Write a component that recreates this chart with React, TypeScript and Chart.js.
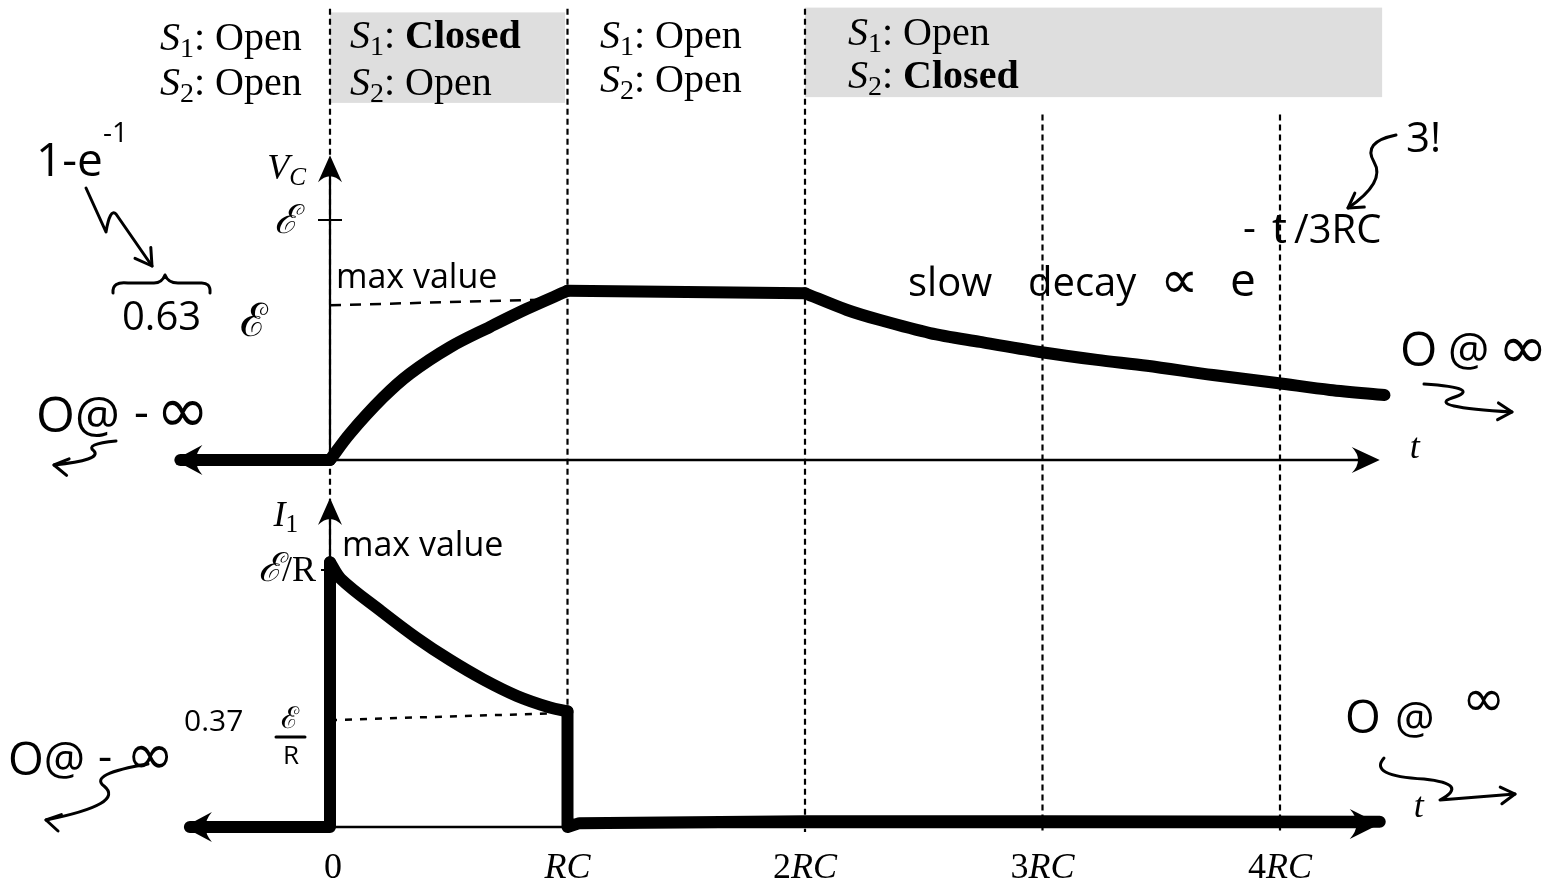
import React, { useEffect, useRef } from 'react';
import { Chart, registerables } from 'chart.js';

Chart.register(...registerables);

// ---- time axis (units of RC) ----
const TICK_VALUES = [0, 1, 2, 3, 4];
const TICK_PREFIX = ['0', '', '2', '3', '4'];
const TICK_SUFFIX = ['', 'RC', 'RC', 'RC', 'RC'];
const T_AXIS_START = 0;
const T_AXIS_END = 4.42;

// ---- capacitor voltage V_C (units of ℰ) ----
const VC_BEFORE_T = [-0.63, 0];
const VC_BEFORE_V = [0, 0];
const VC_CHARGE_T = [0, 0.084, 0.223, 0.337, 0.505, 0.674, 0.829, 1.0];
const VC_CHARGE_V = [0, 0.11, 0.26, 0.36, 0.47, 0.555, 0.63, 0.705];
const VC_HOLD_T = [1.0, 1.5, 2.0];
const VC_HOLD_V = [0.705, 0.7, 0.695];
const VC_DECAY_T = [2.0, 2.177, 2.316, 2.526, 2.737, 2.989, 3.23, 3.44, 3.718, 3.987, 4.21, 4.44];
const VC_DECAY_V = [0.695, 0.625, 0.583, 0.529, 0.492, 0.45, 0.417, 0.393, 0.354, 0.321, 0.292, 0.271];
const VC_REF_T = [0, 0.9];
const VC_REF_V = [0.645, 0.668];
const VC_AXIS_TOP = 1.27;
const VC_TICK = 1;

// ---- current I_1 (units of ℰ/R) ----
const I1_BEFORE_T = [-0.59, 0, 0];
const I1_BEFORE_V = [0, 0, 1.03];
const I1_CHARGE_T = [0, 0.046, 0.215, 0.366, 0.505, 0.644, 0.787, 0.926, 1.0];
const I1_CHARGE_V = [1.03, 0.965, 0.84, 0.735, 0.65, 0.575, 0.51, 0.465, 0.45];
const I1_AFTER_T = [1.0, 1.0, 1.05, 2.0, 3.0, 4.42];
const I1_AFTER_V = [0.45, 0, 0.015, 0.022, 0.022, 0.02];
const I1_REF_T = [0, 1.0];
const I1_REF_V = [0.416, 0.444];
const I1_AXIS_TOP = 1.28;
const I1_TICK = 1;

// ---- phase boundaries (dashed) ----
const PHASE_T = [0, 1, 2, 3, 4];
const PHASE_TOP = [1.88, 1.88, 1.88, 1.44, 1.44];
const PHASE_BOTTOM = -1.55;

// ---- header (switch states) ----
const HEADER_S1 = ['Open', 'Closed', 'Open', 'Open'];
const HEADER_S2 = ['Open', 'Open', 'Open', 'Closed'];
const HEADER_BOLD_S1 = [false, true, false, false];
const HEADER_BOLD_S2 = [false, false, false, true];
const SHADED_FROM = [0, 2];
const SHADED_TO = [0.99, 4.43];

const SERIF = "'Liberation Serif', 'DejaVu Serif', serif";
const HAND = "'Open Sans', 'Noto Sans', sans-serif";
const SYM = "'DejaVu Sans', sans-serif";

type Run = { t: string; f: string; dy?: number };

function rich(ctx: CanvasRenderingContext2D, x: number, y: number, runs: Run[], align: 'left' | 'center' | 'right' = 'left') {
  let w = 0;
  runs.forEach((r) => {
    ctx.font = r.f;
    w += ctx.measureText(r.t).width;
  });
  let cx = align === 'left' ? x : align === 'center' ? x - w / 2 : x - w;
  ctx.textAlign = 'left';
  ctx.textBaseline = 'alphabetic';
  runs.forEach((r) => {
    ctx.font = r.f;
    ctx.fillText(r.t, cx, y + (r.dy || 0));
    cx += ctx.measureText(r.t).width;
  });
}

function arrowHead(ctx: CanvasRenderingContext2D, x: number, y: number, angle: number, len: number, half: number) {
  ctx.save();
  ctx.translate(x, y);
  ctx.rotate(angle);
  ctx.beginPath();
  ctx.moveTo(0, 0);
  ctx.lineTo(-len, -half);
  ctx.quadraticCurveTo(-len * 0.55, 0, -len, half);
  ctx.closePath();
  ctx.fill();
  ctx.restore();
}

function openArrow(ctx: CanvasRenderingContext2D, x: number, y: number, angle: number, len: number) {
  ctx.save();
  ctx.translate(x, y);
  ctx.rotate(angle);
  ctx.beginPath();
  ctx.moveTo(-len, -len * 0.6);
  ctx.lineTo(0, 0);
  ctx.lineTo(-len, len * 0.6);
  ctx.stroke();
  ctx.restore();
}

const pts = (ts: number[], vs: number[]) => ts.map((t, i) => ({ x: t, y: vs[i] }));

export default function App() {
  const ref = useRef<HTMLCanvasElement | null>(null);

  useEffect(() => {
    document.body.style.margin = '0';
    const canvas = ref.current;
    if (!canvas) return;

    const thick = (ts: number[], vs: number[], axis: string, tension: number) => ({
      data: pts(ts, vs),
      yAxisID: axis,
      showLine: true,
      pointRadius: 0,
      borderColor: '#000',
      borderWidth: 12,
      borderCapStyle: 'round',
      borderJoinStyle: 'round',
      fill: false,
      tension,
    });
    const dashed = (ts: number[], vs: number[], axis: string, dash: number[], width: number) => ({
      data: pts(ts, vs),
      yAxisID: axis,
      showLine: true,
      pointRadius: 0,
      borderColor: '#000',
      borderWidth: width,
      borderDash: dash,
      fill: false,
      tension: 0,
    });

    const datasets: any[] = [
      thick(VC_BEFORE_T, VC_BEFORE_V, 'yV', 0),
      thick(VC_CHARGE_T, VC_CHARGE_V, 'yV', 0.35),
      thick(VC_HOLD_T, VC_HOLD_V, 'yV', 0),
      thick(VC_DECAY_T, VC_DECAY_V, 'yV', 0.3),
      thick(I1_BEFORE_T, I1_BEFORE_V, 'yI', 0),
      thick(I1_CHARGE_T, I1_CHARGE_V, 'yI', 0.35),
      thick(I1_AFTER_T, I1_AFTER_V, 'yI', 0),
      dashed(VC_REF_T, VC_REF_V, 'yV', [11, 9], 2.5),
      dashed(I1_REF_T, I1_REF_V, 'yI', [7, 8], 2.5),
      ...PHASE_T.map((t, i) => dashed([t, t], [PHASE_TOP[i], PHASE_BOTTOM], 'yV', [6, 4], 2.2)),
    ];

    const decor = {
      id: 'decor',
      beforeDatasetsDraw(chart: any) {
        const ctx: CanvasRenderingContext2D = chart.ctx;
        const x = chart.scales.x;
        const yV = chart.scales.yV;
        const yI = chart.scales.yI;
        ctx.save();
        // shaded header boxes
        ctx.fillStyle = '#dedede';
        SHADED_FROM.forEach((a, i) => {
          const x0 = x.getPixelForValue(a);
          const x1 = x.getPixelForValue(SHADED_TO[i]);
          const top = i === 0 ? yV.getPixelForValue(1.865) : yV.getPixelForValue(1.885);
          const bot = i === 0 ? yV.getPixelForValue(1.488) : yV.getPixelForValue(1.512);
          ctx.fillRect(x0, top, x1 - x0, bot - top);
        });
        // axes
        ctx.strokeStyle = '#000';
        ctx.lineWidth = 2.5;
        ctx.beginPath();
        ctx.moveTo(x.getPixelForValue(T_AXIS_START), yV.getPixelForValue(0));
        ctx.lineTo(x.getPixelForValue(T_AXIS_END) - 10, yV.getPixelForValue(0));
        ctx.moveTo(x.getPixelForValue(T_AXIS_START), yI.getPixelForValue(0));
        ctx.lineTo(x.getPixelForValue(T_AXIS_END) - 10, yI.getPixelForValue(0));
        ctx.stroke();
        ctx.lineWidth = 2.2;
        ctx.beginPath();
        ctx.moveTo(x.getPixelForValue(0), yV.getPixelForValue(0));
        ctx.lineTo(x.getPixelForValue(0), yV.getPixelForValue(VC_AXIS_TOP) + 8);
        ctx.moveTo(x.getPixelForValue(0), yI.getPixelForValue(0));
        ctx.lineTo(x.getPixelForValue(0), yI.getPixelForValue(I1_AXIS_TOP) + 8);
        // tick marks
        ctx.moveTo(x.getPixelForValue(0) - 12, yV.getPixelForValue(VC_TICK));
        ctx.lineTo(x.getPixelForValue(0) + 12, yV.getPixelForValue(VC_TICK));
        ctx.moveTo(x.getPixelForValue(0) - 9, yI.getPixelForValue(I1_TICK));
        ctx.lineTo(x.getPixelForValue(0), yI.getPixelForValue(I1_TICK));
        ctx.stroke();
        ctx.restore();
      },
      afterDatasetsDraw(chart: any) {
        const ctx: CanvasRenderingContext2D = chart.ctx;
        const x = chart.scales.x;
        const yV = chart.scales.yV;
        const yI = chart.scales.yI;
        ctx.save();
        ctx.fillStyle = '#000';
        ctx.strokeStyle = '#000';
        // arrowheads on axes
        arrowHead(ctx, x.getPixelForValue(T_AXIS_END), yV.getPixelForValue(0), 0, 28, 13);
        arrowHead(ctx, x.getPixelForValue(T_AXIS_END), yI.getPixelForValue(0.012), 0, 30, 15);
        arrowHead(ctx, x.getPixelForValue(0), yV.getPixelForValue(VC_AXIS_TOP), -Math.PI / 2, 27, 12);
        arrowHead(ctx, x.getPixelForValue(0), yI.getPixelForValue(I1_AXIS_TOP), -Math.PI / 2, 27, 12);
        arrowHead(ctx, x.getPixelForValue(VC_BEFORE_T[0]) - 6, yV.getPixelForValue(0), Math.PI, 28, 15);
        arrowHead(ctx, x.getPixelForValue(I1_BEFORE_T[0]) - 6, yI.getPixelForValue(0), Math.PI, 28, 15);

        // header text
        const colX = [160, 350, 600, 848];
        const row1 = [50, 48, 48, 45];
        const row2 = [95, 95, 92, 88];
        const hs = 40;
        colX.forEach((cx, i) => {
          rich(ctx, cx, row1[i], [
            { t: 'S', f: `italic ${hs}px ${SERIF}` },
            { t: '1', f: `${hs * 0.7}px ${SERIF}`, dy: 7 },
            { t: ': ', f: `${hs}px ${SERIF}` },
            { t: HEADER_S1[i], f: `${HEADER_BOLD_S1[i] ? 'bold ' : ''}${hs}px ${SERIF}` },
          ]);
          rich(ctx, cx, row2[i], [
            { t: 'S', f: `italic ${hs}px ${SERIF}` },
            { t: '2', f: `${hs * 0.7}px ${SERIF}`, dy: 7 },
            { t: ': ', f: `${hs}px ${SERIF}` },
            { t: HEADER_S2[i], f: `${HEADER_BOLD_S2[i] ? 'bold ' : ''}${hs}px ${SERIF}` },
          ]);
        });

        // tick labels
        const ts = 36;
        TICK_VALUES.forEach((v, i) => {
          rich(ctx, x.getPixelForValue(v) + (i === 0 ? 3 : 0), 878, [
            { t: TICK_PREFIX[i], f: `${ts}px ${SERIF}` },
            { t: TICK_SUFFIX[i], f: `italic ${ts}px ${SERIF}` },
          ], 'center');
        });

        // axis labels
        const x0 = x.getPixelForValue(0);
        rich(ctx, x0 - 24, yV.getPixelForValue(VC_AXIS_TOP) + 24, [
          { t: 'V', f: `italic ${ts}px ${SERIF}` },
          { t: 'C', f: `italic ${ts * 0.7}px ${SERIF}`, dy: 6 },
        ], 'right');
        rich(ctx, x0 - 32, yV.getPixelForValue(VC_TICK) + 13, [{ t: 'ℰ', f: `italic 40px ${SERIF}` }], 'right');
        rich(ctx, x0 - 32, yI.getPixelForValue(I1_AXIS_TOP) + 28, [
          { t: 'I', f: `italic ${ts}px ${SERIF}` },
          { t: '1', f: `${ts * 0.7}px ${SERIF}`, dy: 6 },
        ], 'right');
        rich(ctx, x0 - 14, yI.getPixelForValue(I1_TICK) + 11, [
          { t: 'ℰ', f: `italic 40px ${SERIF}` },
          { t: '/R', f: `${ts}px ${SERIF}` },
        ], 'right');
        const tx = x.getPixelForValue(T_AXIS_END) + 30;
        rich(ctx, tx, yV.getPixelForValue(0) - 2, [{ t: 't', f: `italic ${ts}px ${SERIF}` }]);
        rich(ctx, tx + 4, yI.getPixelForValue(0) - 10, [{ t: 't', f: `italic ${ts}px ${SERIF}` }]);

        // handwritten annotations
        ctx.lineWidth = 3;
        ctx.lineCap = 'round';
        ctx.lineJoin = 'round';
        rich(ctx, 36, 176, [
          { t: '1-e', f: `46px ${HAND}` },
          { t: '-1', f: `28px ${HAND}`, dy: -34 },
        ]);
        ctx.beginPath();
        ctx.moveTo(86, 188);
        ctx.lineTo(106, 232);
        ctx.quadraticCurveTo(110, 208, 116, 214);
        ctx.lineTo(152, 266);
        ctx.stroke();
        openArrow(ctx, 152, 266, Math.atan2(52, 36), 16);
        // brace
        ctx.beginPath();
        ctx.moveTo(113, 293);
        ctx.quadraticCurveTo(112, 281, 128, 283);
        ctx.lineTo(154, 283);
        ctx.quadraticCurveTo(162, 283, 165, 275);
        ctx.quadraticCurveTo(168, 283, 178, 283);
        ctx.lineTo(200, 283);
        ctx.quadraticCurveTo(211, 282, 210, 293);
        ctx.stroke();
        rich(ctx, 122, 330, [{ t: '0.63', f: `40px ${HAND}` }]);
        rich(ctx, 240, 336, [{ t: 'ℰ', f: `46px ${SERIF}` }]);

        rich(ctx, 36, 432, [{ t: 'O@', f: `50px ${HAND}` }]);
        rich(ctx, 134, 428, [{ t: '-', f: `46px ${HAND}` }]);
        rich(ctx, 156, 432, [{ t: '∞', f: `64px ${SYM}` }]);
        ctx.beginPath();
        ctx.moveTo(116, 441);
        ctx.quadraticCurveTo(84, 444, 94, 451);
        ctx.quadraticCurveTo(102, 460, 54, 465);
        ctx.stroke();
        openArrow(ctx, 54, 465, Math.PI + 0.15, 14);

        rich(ctx, 336, 288, [{ t: 'max value', f: `34px ${HAND}` }]);
        rich(ctx, 342, 556, [{ t: 'max value', f: `34px ${HAND}` }]);

        const dec = `40px ${HAND}`;
        rich(ctx, 908, 296, [{ t: 'slow', f: dec }]);
        rich(ctx, 1028, 296, [{ t: 'decay', f: dec }]);
        rich(ctx, 1160, 298, [{ t: '∝', f: `54px ${SYM}` }]);
        rich(ctx, 1230, 296, [{ t: 'e', f: `46px ${HAND}` }]);
        rich(ctx, 1243, 241, [{ t: '-', f: `40px ${HAND}` }]);
        rich(ctx, 1272, 243, [{ t: 't', f: `42px ${HAND}` }]);
        rich(ctx, 1294, 243, [{ t: '/3RC', f: `40px ${HAND}` }]);
        rich(ctx, 1406, 152, [{ t: '3!', f: `42px ${HAND}` }]);
        ctx.beginPath();
        ctx.moveTo(1396, 135);
        ctx.quadraticCurveTo(1362, 142, 1374, 162);
        ctx.quadraticCurveTo(1386, 182, 1348, 208);
        ctx.stroke();
        openArrow(ctx, 1348, 208, Math.atan2(26, -38), 14);

        rich(ctx, 1400, 366, [{ t: 'O', f: `48px ${HAND}` }]);
        rich(ctx, 1448, 366, [{ t: '@', f: `46px ${HAND}` }]);
        rich(ctx, 1498, 368, [{ t: '∞', f: `60px ${SYM}` }]);
        ctx.beginPath();
        ctx.moveTo(1424, 384);
        ctx.quadraticCurveTo(1484, 388, 1452, 398);
        ctx.quadraticCurveTo(1426, 407, 1512, 412);
        ctx.stroke();
        openArrow(ctx, 1512, 412, 0.05, 14);

        // 0.37 ℰ/R
        rich(ctx, 184, 731, [{ t: '0.37', f: `30px ${HAND}` }]);
        rich(ctx, 290, 728, [{ t: 'ℰ', f: `30px ${SERIF}` }], 'center');
        ctx.beginPath();
        ctx.moveTo(276, 737);
        ctx.lineTo(305, 737);
        ctx.stroke();
        rich(ctx, 291, 764, [{ t: 'R', f: `26px ${HAND}` }], 'center');

        rich(ctx, 8, 775, [{ t: 'O@', f: `46px ${HAND}` }]);
        rich(ctx, 98, 771, [{ t: '-', f: `44px ${HAND}` }]);
        rich(ctx, 126, 774, [{ t: '∞', f: `58px ${SYM}` }]);
        ctx.beginPath();
        ctx.moveTo(148, 764);
        ctx.quadraticCurveTo(88, 774, 104, 786);
        ctx.quadraticCurveTo(126, 804, 46, 820);
        ctx.stroke();
        openArrow(ctx, 46, 820, Math.PI + 0.2, 14);

        rich(ctx, 1345, 733, [{ t: 'O', f: `46px ${HAND}` }]);
        rich(ctx, 1395, 733, [{ t: '@', f: `44px ${HAND}` }]);
        rich(ctx, 1462, 716, [{ t: '∞', f: `52px ${SYM}` }]);
        ctx.beginPath();
        ctx.moveTo(1384, 758);
        ctx.quadraticCurveTo(1368, 776, 1424, 779);
        ctx.quadraticCurveTo(1470, 784, 1440, 800);
        ctx.lineTo(1515, 794);
        ctx.stroke();
        openArrow(ctx, 1515, 794, -0.1, 14);

        ctx.restore();
      },
    };

    const chart = new Chart(canvas, {
      type: 'scatter',
      data: { datasets },
      options: {
        animation: false,
        responsive: false,
        events: [],
        layout: { padding: 0 },
        plugins: {
          legend: { display: false },
          tooltip: { enabled: false },
          title: { display: false },
        },
        scales: {
          x: { type: 'linear', display: false, min: -330 / 237.5, max: (1558 - 330) / 237.5 },
          yV: { type: 'linear', display: false, position: 'left', min: -(881 - 460) / 240, max: 460 / 240 },
          yI: { type: 'linear', display: false, position: 'left', min: -(881 - 827) / 257, max: 827 / 257 },
        },
      } as any,
      plugins: [decor],
    });
    return () => chart.destroy();
  }, []);

  return (
    <div style={{ position: 'absolute', left: 0, top: 0, width: 1558, height: 881, background: '#fff' }}>
      <canvas ref={ref} width={1558} height={881} style={{ display: 'block' }} />
    </div>
  );
}
